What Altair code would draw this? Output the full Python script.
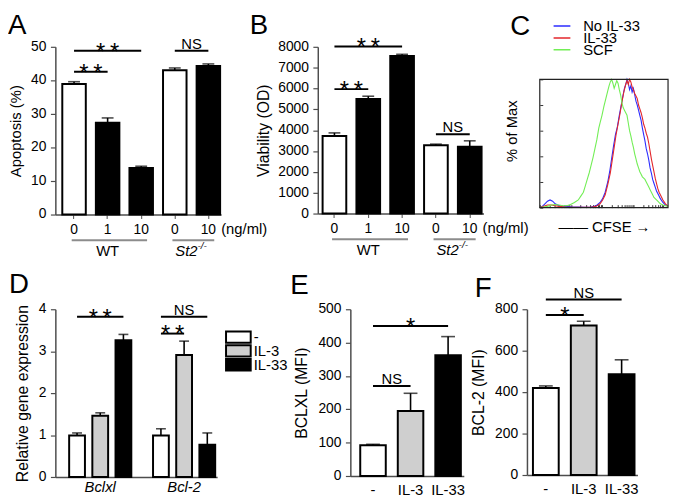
import altair as alt
import pandas as pd
import math

FONT = "Liberation Sans"
AX = "#4d4d4d"
GREY_LINE = "#8c8c8c"

# ---------------- data ----------------
# Panel A / B (same categories)
AB_cats = ["WT-0", "WT-1", "WT-10", "KO-0", "KO-10"]
AB_ticks = ["0", "1", "10", "0", "10"]
AB_treat = ["none", "IL-33", "IL-33", "none", "IL-33"]

A_vals = [38.9, 27.4, 13.9, 43.0, 44.3]
A_errs = [0.7, 1.4, 0.5, 0.7, 0.6]
A_sig = [("WT-0", "WT-10", 48.8, "**"), ("WT-0", "WT-1", 42.6, "**"), ("KO-0", "KO-10", 48.8, "NS")]
A_yticks = [0, 10, 20, 30, 40, 50]

B_vals = [3720, 5500, 7560, 3280, 3210]
B_errs = [150, 130, 80, 50, 280]
B_sig = [("WT-0", "WT-10", 8010, "**"), ("WT-0", "WT-1", 5970, "**"), ("KO-0", "KO-10", 3800, "NS")]
B_yticks = [0, 1000, 2000, 3000, 4000, 5000, 6000, 7000, 8000]

# Panel C (flow histograms, % of max vs CFSE position 0-100)
C_series = ["No IL-33", "IL-33", "SCF"]
C_colors = ["#2b2bff", "#e3262b", "#72ee55"]
C_blue_x = [0, 2, 4, 6, 8, 10, 12, 14, 17, 20, 25, 30, 35, 40, 44, 47, 49, 51, 53, 54.5, 56, 57.5, 59, 60.5, 62, 63.5, 65, 66, 67, 68, 69, 70, 71, 72, 73, 74, 75, 76, 77, 78, 79, 80, 81, 82, 83, 84, 85, 86, 87, 88, 89, 90, 91, 92, 93, 94, 96, 98, 100]
C_blue_y = [0, 1, 3, 5, 6, 5, 3, 2, 1, 1, 0.5, 0.5, 0.3, 0.5, 1.5, 4, 7, 12, 20, 28, 38, 48, 57, 63, 72, 80, 88, 93, 96, 100, 97, 92, 95, 90, 93, 88, 83, 80, 76, 72, 68, 62, 57, 52, 46, 42, 37, 31, 27, 22, 19, 16, 13, 11, 9, 7, 4, 2, 1]
C_red_x = [0, 3, 6, 9, 12, 15, 20, 30, 40, 44, 47, 49, 51, 53, 55, 56.5, 58, 59.5, 61, 62.5, 64, 65.5, 67, 68, 69, 70, 71, 72, 73, 74, 75, 76, 77, 78, 79, 80, 81, 82, 83, 84, 85, 86, 87, 88, 89, 90, 91, 92, 93, 94, 96, 98, 100]
C_red_y = [0, 1, 2, 2, 1.5, 1, 0.5, 0.3, 0.3, 1, 3, 6, 10, 18, 27, 37, 47, 57, 65, 73, 82, 90, 96, 99, 96, 100, 98, 94, 92, 89, 87, 85, 80, 77, 74, 70, 65, 62, 58, 55, 50, 44, 38, 33, 28, 23, 19, 15, 12, 10, 6, 3, 1]
C_green_x = [0, 3, 6, 9, 12, 15, 18, 21, 24, 27, 30, 32, 34, 35.5, 37, 38.5, 40, 41.5, 43, 44.5, 46, 47, 48.5, 50, 51.5, 53, 54, 55, 56, 57, 58, 59, 60, 61, 62, 63, 64, 65, 66, 67, 68, 69, 70, 71, 72, 73, 74, 75, 76, 77, 78, 79, 80, 81, 82, 83, 84, 85, 86, 87, 88, 89, 90, 92, 94, 96, 98, 100]
C_green_y = [0, 0.5, 1, 2, 2.5, 2, 1.5, 1.5, 2.5, 4, 6, 9, 12, 17, 22, 27, 33, 39, 46, 53, 62, 66, 72, 79, 85, 91, 95, 98, 100, 97, 93, 96, 99, 97, 92, 88, 82, 78, 76, 74, 72, 66, 60, 56, 51, 47, 42, 38, 34, 31, 28, 26, 24, 23, 22, 20, 18, 16, 14, 12, 10, 8, 7, 5, 3, 2, 1.5, 1]

# Panel D
D_genes = ["Bclxl", "Bcl-2"]
D_treats = ["-", "IL-3", "IL-33"]
D_colors = ["#ffffff", "#cfcfcf", "#000000"]
D_vals_bclxl = [0.99, 1.46, 3.26]
D_errs_bclxl = [0.06, 0.07, 0.14]
D_vals_bcl2 = [0.99, 2.91, 0.77]
D_errs_bcl2 = [0.16, 0.33, 0.28]
D_sig = [("Bclxl", "-", "IL-33", 3.82, "**"), ("Bcl-2", "-", "IL-33", 3.82, "NS"), ("Bcl-2", "-", "IL-3", 3.42, "**")]
D_yticks = [0, 1, 2, 3, 4]

# Panel E
E_vals = [92, 195, 362]
E_errs = [3, 53, 56]
E_sig = [("-", "IL-33", 450, "*"), ("-", "IL-3", 270, "NS")]
E_yticks = [0, 100, 200, 300, 400, 500]

# Panel F
F_vals = [420, 722, 486]
F_errs = [10, 20, 70]
F_sig = [("-", "IL-3", 772, "*"), ("-", "IL-33", 847, "NS")]
F_yticks = [0, 200, 400, 600, 800]

STAR_TEXT = {"**": "*\u2009*", "*": "*"}
LETTER_SHIFT = 28
LABEL_SIZE = 14
DIGIT_W = 7.8


# ---------------- helpers ----------------
def letter(t, dx, dy):
    return alt.TitleParams(text=t, anchor="start", frame="group", dx=dx, dy=dy + LETTER_SHIFT, offset=0,
                           fontSize=28, fontWeight="normal", font=FONT, color="black",
                           baseline="alphabetic")


def spacer(w):
    return alt.Chart(pd.DataFrame({"v": [0]})).mark_point(opacity=0).encode(
        x=alt.value(0), y=alt.value(0)).properties(width=w, height=1)


def y_axis(values, title, tsize, tpad):
    w = max(len(str(v)) for v in values) * DIGIT_W
    return alt.Axis(values=values, labels=False, title=title, titleFontSize=tsize,
                    titlePadding=tpad + 4 + w, tickSize=5, tickColor=AX,
                    tickWidth=1.2, domainColor=AX, domainWidth=1.5, grid=False)


def ylabel_layer(values, ys, yaxis):
    d = pd.DataFrame({"val": values, "lab": [str(v) for v in values]})
    return alt.Chart(d).mark_text(align="right", baseline="middle", fontSize=LABEL_SIZE, color="black").encode(
        y=alt.Y("val:Q", scale=ys, axis=yaxis), x=alt.value(-9), text="lab:N")


def sig_layers(sigs, cats, xs, ys, step, xaxis, yaxis):
    out = []
    for c1, c2, yv, lab in sigs:
        d = pd.DataFrame({"cat": [c1], "cat2": [c2], "val": [yv]})
        i1, i2 = cats.index(c1), cats.index(c2)
        out.append(alt.Chart(d).mark_rule(color="black", strokeWidth=2).encode(
            x=alt.X("cat:N", scale=xs, axis=xaxis, bandPosition=0.5),
            x2=alt.X2("cat2", bandPosition=0.5),
            y=alt.Y("val:Q", scale=ys, axis=yaxis)))
        star = lab != "NS"
        out.append(alt.Chart(d).mark_text(
            text=STAR_TEXT.get(lab, lab), dx=(i2 - i1) * step / 2, dy=9 if star else -2,
            fontSize=24 if star else 15, baseline="alphabetic", align="center", color="black").encode(
            x=alt.X("cat:N", scale=xs, axis=xaxis, bandPosition=0.5),
            y=alt.Y("val:Q", scale=ys, axis=yaxis)))
    return out


def bar_core(df, cats, xs, ys, xaxis, yaxis, fill_domain, fill_range, cap):
    bars = alt.Chart(df).mark_bar(stroke="black", strokeWidth=2).encode(
        x=alt.X("cat:N", scale=xs, sort=cats, axis=xaxis),
        y=alt.Y("val:Q", scale=ys, axis=yaxis),
        fill=alt.Fill("treat:N", scale=alt.Scale(domain=fill_domain, range=fill_range), legend=None))
    err = alt.Chart(df).mark_rule(color="black", strokeWidth=1.6).encode(
        x=alt.X("cat:N", scale=xs, axis=xaxis, bandPosition=0.5),
        y=alt.Y("val:Q", scale=ys, axis=yaxis), y2="top")
    caps = alt.Chart(df).mark_tick(color="black", thickness=1.6, size=cap, orient="horizontal").encode(
        x=alt.X("cat:N", scale=xs, axis=xaxis),
        y=alt.Y("top:Q", scale=ys, axis=yaxis))
    return [bars, err, caps]


def under_axis(cats, xs, H, xaxis):
    def one(c):
        return pd.DataFrame({"cat": [c]})
    enc = lambda: alt.X("cat:N", scale=xs, axis=xaxis, bandPosition=0.5)
    ng = alt.Chart(one(cats[-1])).mark_text(text="(ng/ml)", align="left", baseline="middle", dx=13,
                                             fontSize=15, color="black").encode(x=enc(), y=alt.value(H + 15))
    gl = pd.DataFrame({"cat": [cats[0], cats[3]], "cat2": [cats[2], cats[4]]})
    lines = alt.Chart(gl).mark_rule(color=GREY_LINE, strokeWidth=2).encode(
        x=alt.X("cat:N", scale=xs, axis=xaxis, bandPosition=0.4),
        x2=alt.X2("cat2", bandPosition=0.75), y=alt.value(H + 26))
    wt = alt.Chart(one(cats[1])).mark_text(text="WT", baseline="middle", fontSize=15, color="black").encode(
        x=enc(), y=alt.value(H + 37))
    st = alt.Chart(one(cats[3])).mark_text(text="St2", align="right", baseline="middle", dx=23, fontSize=15,
                                           fontStyle="italic", color="black").encode(x=enc(), y=alt.value(H + 37))
    sup = alt.Chart(one(cats[3])).mark_text(text="-/-", align="left", baseline="middle", dx=23, dy=-5,
                                            fontSize=10, fontStyle="italic", color="black").encode(
        x=enc(), y=alt.value(H + 37))
    return [ng, lines, wt, st, sup]


def ab_panel(vals, errs, sigs, ydom, yticks, ytitle, tsize, tpad, W, H, po, al, lt, ldx, ldy):
    pi = 0.3
    df = pd.DataFrame({"cat": AB_cats, "val": vals, "err": errs, "treat": AB_treat})
    df["top"] = df["val"] + df["err"]
    xs = alt.Scale(domain=AB_cats, paddingInner=pi, paddingOuter=po, align=al)
    ys = alt.Scale(domain=ydom, nice=False, zero=True)
    step = W / (len(AB_cats) - pi + 2 * po)
    expr = "[" + ",".join("'%s'" % t for t in AB_ticks) + "][indexof([" + \
           ",".join("'%s'" % c for c in AB_cats) + "], datum.value)]"
    xaxis = alt.Axis(title=None, labelExpr=expr, labelAngle=0, labelFontSize=LABEL_SIZE, labelPadding=4,
                     tickSize=4, tickColor=AX, domainColor=AX, domainWidth=1.5, labelOverlap=False)
    yaxis = y_axis(yticks, ytitle, tsize, tpad)
    layers = bar_core(df, AB_cats, xs, ys, xaxis, yaxis, ["none", "IL-33"], ["#ffffff", "#000000"], 12)
    layers += sig_layers(sigs, AB_cats, xs, ys, step, xaxis, yaxis)
    layers += under_axis(AB_cats, xs, H, xaxis)
    layers.append(ylabel_layer(yticks, ys, yaxis))
    return alt.layer(*layers).properties(width=W, height=H, title=letter(lt, ldx, ldy))


def three_panel(vals, errs, sigs, ydom, yticks, ytitle, W, H, po, al, lt, ldx, ldy):
    pi = 0.32
    df = pd.DataFrame({"cat": D_treats, "val": vals, "err": errs, "treat": D_treats})
    df["top"] = df["val"] + df["err"]
    xs = alt.Scale(domain=D_treats, paddingInner=pi, paddingOuter=po, align=al)
    ys = alt.Scale(domain=ydom, nice=False, zero=True)
    step = W / (3 - pi + 2 * po)
    xaxis = alt.Axis(title=None, labelAngle=0, labelFontSize=15, labelPadding=7, ticks=False,
                     domainColor=AX, domainWidth=1.5, labelOverlap=False)
    yaxis = y_axis(yticks, ytitle, 16, 8)
    layers = bar_core(df, D_treats, xs, ys, xaxis, yaxis, D_treats, D_colors, 14)
    layers += sig_layers(sigs, D_treats, xs, ys, step, xaxis, yaxis)
    layers.append(ylabel_layer(yticks, ys, yaxis))
    return alt.layer(*layers).properties(width=W, height=H, title=letter(lt, ldx, ldy))


# ---------------- Panel A, B ----------------
A = ab_panel(A_vals, A_errs, A_sig, [0, 50], A_yticks, "Apoptosis (%)", 15, 7,
             168, 170, 0.118, 0.875, "A", -48, -3)
B = ab_panel(B_vals, B_errs, B_sig, [0, 8000], B_yticks, "Viability (OD)", 16, 6,
             168, 169, 0.10, 0.71, "B", -69, -3)

# ---------------- Panel C ----------------
c_rows = []
for s, xs_, ys_ in zip(C_series, [C_blue_x, C_red_x, C_green_x], [C_blue_y, C_red_y, C_green_y]):
    for xv, yv in zip(xs_, ys_):
        c_rows.append({"series": s, "x": xv, "y": yv})
C_df = pd.DataFrame(c_rows)
C_W, C_H = 130, 163
C_ymax = 100 * C_H / 130.0
cx = alt.Scale(domain=[0, 100], nice=False, zero=False)
cy = alt.Scale(domain=[0, C_ymax], nice=False, zero=True)
dec = 24.4
C_xticks = sorted(set(round(d * dec + math.log10(k) * dec, 2) for d in range(4) for k in range(1, 10)
                      if d * dec + math.log10(k) * dec <= 100))
c_xaxis = alt.Axis(values=C_xticks, labels=False, domain=False, ticks=True, tickSize=3, tickColor="#333",
                   tickWidth=1, offset=-3, grid=False, title="\u2014\u2014  CFSE  \u2192", titleFontSize=15,
                   titleX=65, titleY=22, titleBaseline="middle", titleAlign="center")
c_yaxis = alt.Axis(values=[0, 20, 40, 60, 80, 100], labels=False, domain=False, ticks=True, tickSize=3,
                   tickColor="#333", tickWidth=1, offset=-3, grid=False, title="% of Max", titleFontSize=15,
                   titleX=-32, titleY=85, titleAngle=270, titleAlign="center", titleBaseline="middle")
c_lines = alt.Chart(C_df).mark_line(strokeWidth=1.1).encode(
    x=alt.X("x:Q", scale=cx, axis=c_xaxis),
    y=alt.Y("y:Q", scale=cy, axis=c_yaxis),
    color=alt.Color("series:N", sort=C_series, scale=alt.Scale(domain=C_series, range=C_colors),
                    legend=alt.Legend(orient="none", legendX=13, legendY=-25, title=None, symbolType="stroke",
                                      symbolStrokeWidth=1.5, symbolSize=289, labelFontSize=15,
                                      labelOffset=12, rowPadding=-3, clipHeight=8, labelColor="black")),
    detail="series:N")
frame_df = pd.DataFrame({"x": [0], "x1": [100], "y": [0], "y1": [100]})
c_frame = alt.Chart(frame_df).mark_rect(fillOpacity=0, stroke="#222", strokeWidth=1.2).encode(
    x=alt.X("x:Q", scale=cx, axis=c_xaxis), x2="x1",
    y=alt.Y("y:Q", scale=cy, axis=c_yaxis), y2="y1")
C = alt.layer(c_lines, c_frame).properties(width=C_W, height=C_H, title=letter("C", -30, 13))

# ---------------- Panel D ----------------
D_W, D_H = 164, 170
d_rows = []
for g, vs, es in zip(D_genes, [D_vals_bclxl, D_vals_bcl2], [D_errs_bclxl, D_errs_bcl2]):
    for t, v, e in zip(D_treats, vs, es):
        d_rows.append({"gene": g, "treat": t, "val": v, "top": v + e})
D_df = pd.DataFrame(d_rows)
d_pi, d_po, d_al = 0.259, 0.094, 0.875
dxs = alt.Scale(domain=D_genes, paddingInner=d_pi, paddingOuter=d_po, align=d_al)
dxo = alt.Scale(domain=D_treats, paddingInner=0.319, paddingOuter=0)
dys = alt.Scale(domain=[0, 4], nice=False, zero=True)
sub_step = 1.0 / (3 - 0.319)
sub_band = sub_step * (1 - 0.319)
bp = {t: (i * sub_step + sub_band / 2) for i, t in enumerate(D_treats)}
d_xaxis = alt.Axis(title=None, labelAngle=0, labelFontSize=15, labelFontStyle="italic", labelPadding=3,
                   ticks=False, domainColor=AX, domainWidth=1.5, labelOverlap=False)
d_yaxis = y_axis(D_yticks, "Relative gene expression", 16, 8)
d_bars = alt.Chart(D_df).mark_bar(stroke="black", strokeWidth=2).encode(
    x=alt.X("gene:N", scale=dxs, axis=d_xaxis),
    xOffset=alt.XOffset("treat:N", scale=dxo),
    y=alt.Y("val:Q", scale=dys, axis=d_yaxis),
    fill=alt.Fill("treat:N", scale=alt.Scale(domain=D_treats, range=D_colors), legend=None))
d_err = alt.Chart(D_df).mark_rule(color="black", strokeWidth=1.6).encode(
    x=alt.X("gene:N", scale=dxs, axis=d_xaxis), xOffset=alt.XOffset("treat:N", scale=dxo),
    y=alt.Y("val:Q", scale=dys, axis=d_yaxis), y2="top")
d_cap = alt.Chart(D_df).mark_tick(color="black", thickness=1.6, size=10, orient="horizontal").encode(
    x=alt.X("gene:N", scale=dxs, axis=d_xaxis), xOffset=alt.XOffset("treat:N", scale=dxo),
    y=alt.Y("top:Q", scale=dys, axis=d_yaxis))
d_layers = [d_bars, d_err, d_cap]
for g, t1, t2, yv, lab in D_sig:
    d = pd.DataFrame({"gene": [g], "val": [yv]})
    d_layers.append(alt.Chart(d).mark_rule(color="black", strokeWidth=2).encode(
        x=alt.X("gene:N", scale=dxs, axis=d_xaxis, bandPosition=bp[t1]),
        x2=alt.X2("gene", bandPosition=bp[t2]),
        y=alt.Y("val:Q", scale=dys, axis=d_yaxis)))
    star = lab != "NS"
    d_layers.append(alt.Chart(d).mark_text(
        text=STAR_TEXT.get(lab, lab), dy=9 if star else -2, fontSize=24 if star else 15,
        baseline="alphabetic", align="center", color="black").encode(
        x=alt.X("gene:N", scale=dxs, axis=d_xaxis, bandPosition=(bp[t1] + bp[t2]) / 2),
        y=alt.Y("val:Q", scale=dys, axis=d_yaxis)))
d_layers.append(ylabel_layer(D_yticks, dys, d_yaxis))
D = alt.layer(*d_layers).properties(width=D_W, height=D_H, title=letter("D", -47, -9))

# legend for D (swatches)
leg_df = pd.DataFrame({"treat": D_treats})
leg_y = alt.Scale(domain=D_treats, paddingInner=0.18, paddingOuter=0.8, align=1)
legD = alt.layer(
    alt.Chart(leg_df).mark_bar(stroke="black", strokeWidth=2).encode(
        y=alt.Y("treat:N", scale=leg_y, axis=None),
        x=alt.X(datum=0, scale=alt.Scale(domain=[0, 1]), axis=None),
        x2=alt.X2(datum=1),
        fill=alt.Fill("treat:N", scale=alt.Scale(domain=D_treats, range=D_colors), legend=None)),
    alt.Chart(leg_df).mark_text(align="left", baseline="middle", dx=3, fontSize=15, color="black").encode(
        y=alt.Y("treat:N", scale=leg_y, axis=None),
        x=alt.X(datum=1, scale=alt.Scale(domain=[0, 1]), axis=None),
        text="treat:N"),
).properties(width=25, height=62)

# ---------------- Panel E, F ----------------
E = three_panel(E_vals, E_errs, E_sig, [0, 500], E_yticks, "BCLXL (MFI)",
                115, 169, 0.171, 0.77, "E", -61, -8)
F = three_panel(F_vals, F_errs, F_sig, [0, 800], F_yticks, "BCL-2 (MFI)",
                112, 168, 0.118, 0.67, "F", -53, 11)

IND = dict(fill="independent", color="independent")
row1 = alt.hconcat(A, spacer(98), B, spacer(57), C, spacing=0, bounds="flush").resolve_scale(
    **IND).resolve_legend(**IND)
row2 = alt.hconcat(D, spacer(9), legD, spacer(101), E, spacer(64), F, spacing=0, bounds="flush").resolve_scale(
    **IND).resolve_legend(**IND)

chart = alt.vconcat(row1, row2, spacing=13).resolve_scale(**IND).resolve_legend(**IND).properties(
    padding=0).configure(font=FONT, background="white").configure_view(stroke=None).configure_axis(
    titleFontWeight="normal", labelFont=FONT, titleFont=FONT, labelColor="black", titleColor="black"
).configure_text(font=FONT)

chart.save("out.html", embed_options={"renderer": "svg", "actions": False})
